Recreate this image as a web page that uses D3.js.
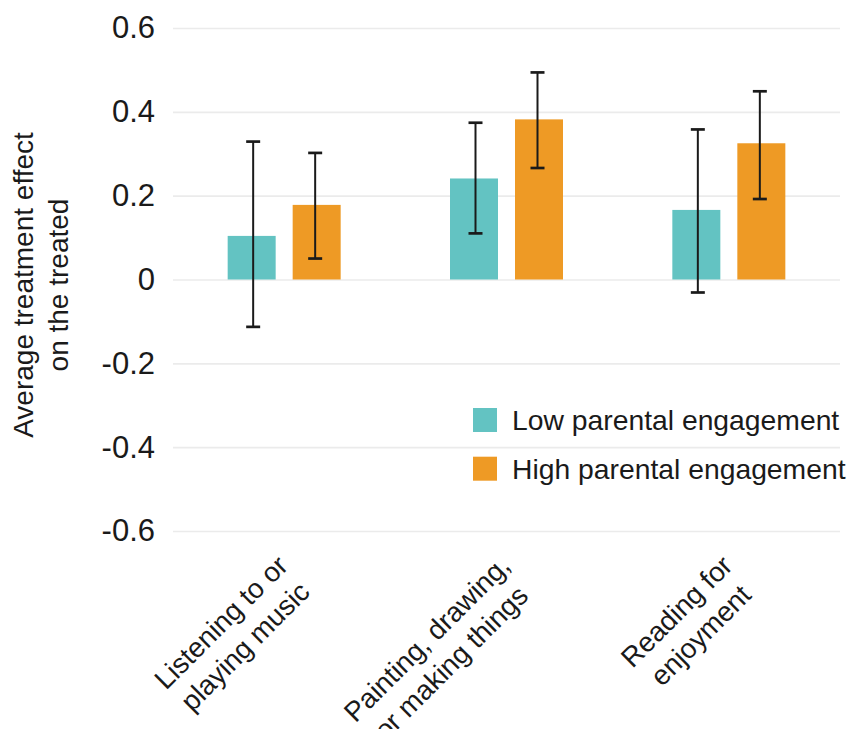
<!DOCTYPE html>
<html>
<head>
<meta charset="utf-8">
<script src="https://cdn.jsdelivr.net/npm/d3@7"></script>
<style>
  html, body { margin: 0; padding: 0; background: #fff; }
  svg { display: block; }
  text { font-family: "Liberation Sans", Arial, Helvetica, sans-serif; fill: #1a1a1a; }
</style>
</head>
<body>
<svg id="chart" width="848" height="729"></svg>
<script>
// ---- data ----
const categories = [
  ["Listening to or", "playing music"],
  ["Painting, drawing,", "or making things"],
  ["Reading for", "enjoyment"]
];
const seriesNames = ["Low parental engagement", "High parental engagement"];
const lowValues  = [0.104, 0.241, 0.166];
const lowLower   = [-0.113, 0.110, -0.031];
const lowUpper   = [0.329, 0.374, 0.358];
const highValues = [0.178, 0.382, 0.325];
const highLower  = [0.050, 0.266, 0.192];
const highUpper  = [0.302, 0.494, 0.449];
const yTickValues = [0.6, 0.4, 0.2, 0, -0.2, -0.4, -0.6];
const yTickLabels = ["0.6", "0.4", "0.2", "0", "-0.2", "-0.4", "-0.6"];
const yTitle = ["Average treatment effect", "on the treated"];
const colors = ["#63c3c2", "#ee9a25"];

// ---- layout ----
const svg = d3.select("#chart");
const plotL = 173, plotR = 840, plotT = 28, plotB = 531;

const catKeys = categories.map((c, i) => i);
const x0 = d3.scaleBand().domain(catKeys).range([plotL, plotR]).padding(0);
const halfGroup = 56.5;
const x1 = d3.scaleBand().domain(seriesNames)
  .range([x0.bandwidth() / 2 - halfGroup, x0.bandwidth() / 2 + halfGroup])
  .paddingInner(0.2615).paddingOuter(0);
const y = d3.scaleLinear().domain([-0.6, 0.6]).range([plotB, plotT]);

// gridlines
const grid = svg.append("g").attr("transform", `translate(${plotL},0)`)
  .call(d3.axisLeft(y).tickValues(yTickValues).tickSize(-(plotR - plotL)).tickFormat(""));
grid.select(".domain").remove();
grid.selectAll("line").attr("stroke", "#ebebeb").attr("stroke-width", 1.6);

// y axis labels
const yAxis = svg.append("g").attr("transform", `translate(${plotL},0)`)
  .call(d3.axisLeft(y).tickValues(yTickValues).tickSize(0).tickPadding(18)
    .tickFormat((d, i) => yTickLabels[i]));
yAxis.select(".domain").remove();
yAxis.selectAll("text").style("font-size", "31px").attr("fill", "#1a1a1a")
  .style("font-family", "'Liberation Sans', Arial, sans-serif");

// y title
const yt = svg.append("text")
  .attr("transform", `translate(33,285) rotate(-90)`)
  .attr("text-anchor", "middle")
  .style("font-size", "28px");
yTitle.forEach((t, i) => {
  yt.append("tspan").attr("x", 0).attr("y", i * 35).text(t);
});

// data rows
const rows = categories.map((c, i) => ({
  idx: i,
  vals: [
    { s: seriesNames[0], v: lowValues[i], lo: lowLower[i], hi: lowUpper[i], c: colors[0] },
    { s: seriesNames[1], v: highValues[i], lo: highLower[i], hi: highUpper[i], c: colors[1] }
  ]
}));

const groups = svg.append("g").selectAll("g").data(rows).join("g")
  .attr("transform", d => `translate(${x0(d.idx)},0)`);

groups.selectAll("rect").data(d => d.vals).join("rect")
  .attr("x", d => x1(d.s))
  .attr("width", x1.bandwidth())
  .attr("y", d => y(Math.max(0, d.v)))
  .attr("height", d => Math.abs(y(d.v) - y(0)))
  .attr("fill", d => d.c);

// error bars (slightly inward of bar centres, as in the reference)
const capHalf = 7;
const eb = groups.selectAll("g.eb").data(d => d.vals).join("g").attr("class", "eb")
  .attr("transform", (d, j) => `translate(${x1(d.s) + x1.bandwidth() / 2 + (j === 0 ? 1.5 : -1.5)},0)`);
eb.append("line").attr("x1", 0).attr("x2", 0)
  .attr("y1", d => y(d.hi)).attr("y2", d => y(d.lo))
  .attr("stroke", "#1a1a1a").attr("stroke-width", 2);
eb.append("line").attr("x1", -capHalf).attr("x2", capHalf)
  .attr("y1", d => y(d.hi)).attr("y2", d => y(d.hi))
  .attr("stroke", "#1a1a1a").attr("stroke-width", 2.7);
eb.append("line").attr("x1", -capHalf).attr("x2", capHalf)
  .attr("y1", d => y(d.lo)).attr("y2", d => y(d.lo))
  .attr("stroke", "#1a1a1a").attr("stroke-width", 2.7);

// x labels rotated 45
const xfs = 27.8, lineH = 34;
categories.forEach((lines, i) => {
  const cx = x0(i) + x0.bandwidth() / 2;
  const g = svg.append("g").attr("transform", `translate(${cx - 10},552) rotate(-45)`);
  const t = g.append("text").style("font-size", xfs + "px").attr("text-anchor", "middle");
  const spans = lines.map((l, j) => t.append("tspan").attr("y", 0.78 * xfs + j * lineH).text(l));
  const w = d3.max(spans, s => s.node().getComputedTextLength());
  spans.forEach(s => s.attr("x", -w / 2));
});

// legend
const legend = svg.append("g").attr("transform", "translate(473,408)");
seriesNames.forEach((name, i) => {
  const row = legend.append("g").attr("transform", `translate(0,${i * 48.7})`);
  row.append("rect").attr("width", 24).attr("height", 24).attr("fill", colors[i]);
  row.append("text").attr("x", 39).attr("y", 12).attr("dy", "0.35em")
    .style("font-size", "28.3px").text(name);
});
</script>
</body>
</html>
